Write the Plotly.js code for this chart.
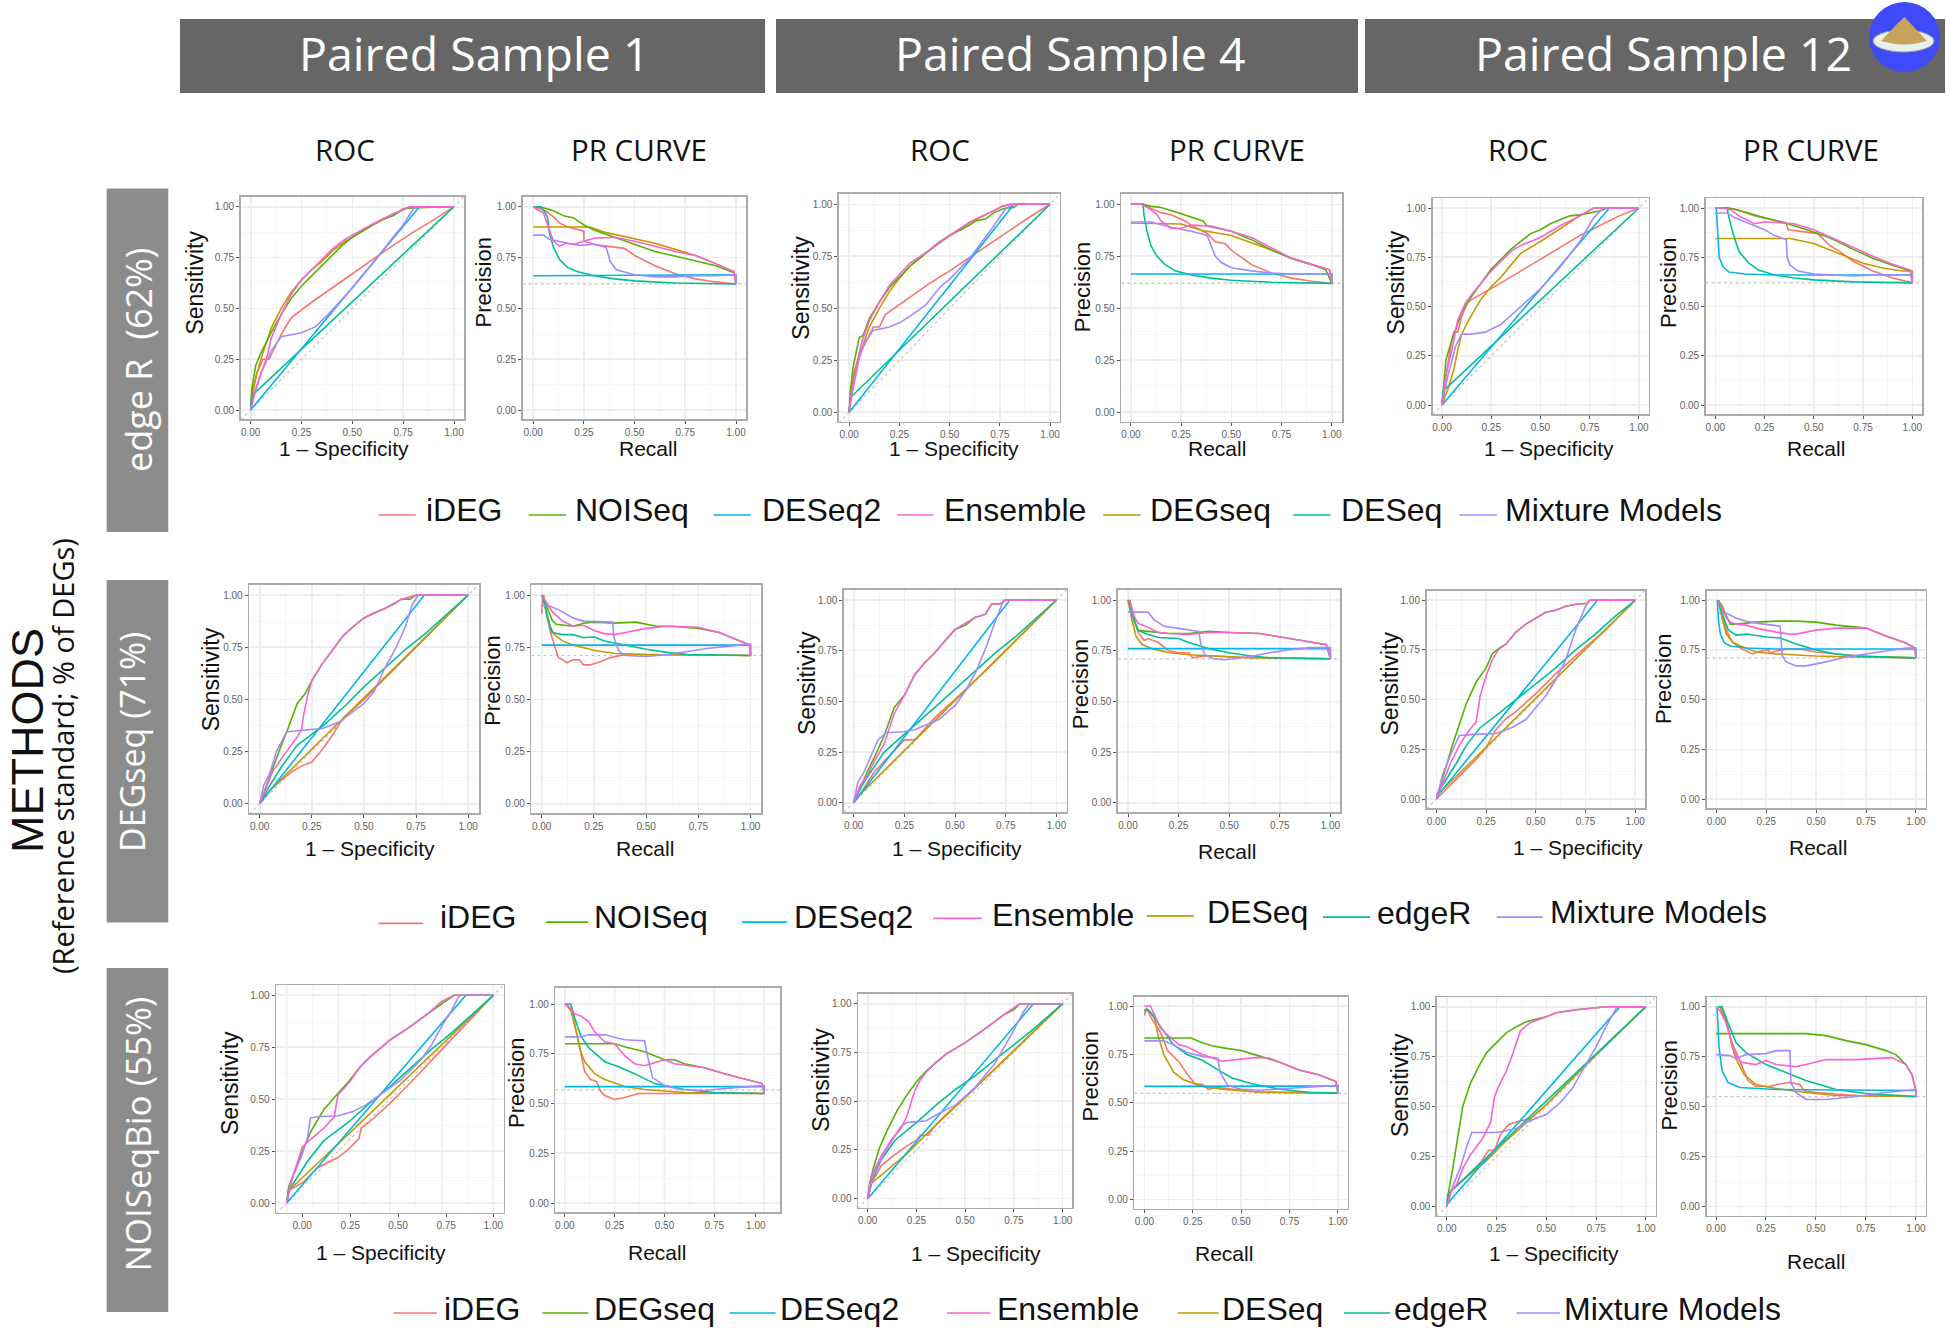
<!DOCTYPE html>
<html><head><meta charset="utf-8">
<script src="https://cdn.plot.ly/plotly-3.0.1.min.js"></script>
<style>html,body{margin:0;padding:0;background:#fff}#c{width:1946px;height:1329px}</style>
</head><body><div id="c"></div>
<script>
// ---- DATA: [x,y] pairs, one small table per panel ----
const rocS1E={red:[[0,0],[.01,.1],[.03,.18],[.06,.25],[.09,.25],[.12,.31],[.16,.39],[.2,.455],[.3,.53],[.4,.6],[.5,.67],[.6,.74],[.7,.81],[.8,.875],[.9,.935],[1,1]],
gold:[[0,0],[.01,.08],[.03,.18],[.06,.28],[.1,.4],[.15,.5],[.2,.58],[.25,.64],[.3,.69],[.35,.73],[.4,.78],[.45,.82],[.5,.85],[.6,.91],[.7,.96],[.77,.995],[1,1]],
green:[[0,0],[.005,.1],[.025,.22],[.05,.28],[.1,.38],[.15,.47],[.2,.55],[.25,.61],[.3,.66],[.35,.71],[.4,.76],[.45,.81],[.5,.85],[.55,.88],[.6,.91],[.65,.94],[.7,.955],[.75,.99],[.8,.995],[1,1]],
teal:[[0,0],[.005,.07],[1,1]],blue:[[0,0],[.83,1],[1,1]],
purple:[[0,0],[.02,.08],[.05,.18],[.1,.29],[.15,.36],[.2,.37],[.25,.38],[.32,.41],[.4,.49],[.5,.6],[.6,.72],[.7,.85],[.75,.91],[.8,.99],[.82,1],[1,1]],
pink:[[0,0],[.02,.09],[.05,.18],[.08,.26],[.1,.35],[.15,.47],[.2,.57],[.25,.64],[.3,.69],[.35,.74],[.4,.79],[.45,.83],[.5,.86],[.6,.915],[.7,.965],[.78,1],[1,1]]};
const prS1E={red:[[0,1],[.06,.98],[.1,.95],[.13,.92],[.17,.9],[.25,.88],[.25,.83],[.3,.815],[.37,.805],[.45,.795],[.5,.76],[.6,.71],[.7,.67],[.8,.645],[.9,.63],[1,.62]],
gold:[[0,.9],[.28,.9],[.35,.875],[.5,.84],[.6,.82],[.7,.79],[.8,.76],[.9,.72],[.99,.68],[1,.62]],
green:[[0,1],[.05,.995],[.1,.98],[.15,.955],[.2,.945],[.25,.91],[.3,.885],[.4,.85],[.5,.815],[.6,.78],[.75,.745],[.9,.71],[.99,.675],[1,.62]],
teal:[[.01,1],[.04,1],[.07,.95],[.08,.87],[.1,.8],[.13,.74],[.17,.7],[.22,.68],[.3,.66],[.4,.645],[.5,.635],[.7,.625],[1,.62]],
blue:[[0,.66],[1,.665],[1,.62]],
purple:[[0,.86],[.05,.86],[.08,.84],[.12,.83],[.17,.82],[.23,.81],[.3,.815],[.36,.8],[.38,.73],[.41,.69],[.5,.665],[.6,.655],[.7,.655],[.8,.66],[.9,.66],[1,.665],[1,.62]],
pink:[[0,1],[.02,.985],[.05,.97],[.08,.88],[.1,.83],[.13,.805],[.16,.82],[.2,.815],[.25,.83],[.3,.845],[.4,.85],[.5,.83],[.6,.805],[.7,.78],[.8,.76],[.9,.72],[.99,.68],[1,.62]]};
const rocS4E={red:[[0,0],[.02,.18],[.05,.28],[.08,.33],[.12,.41],[.15,.41],[.18,.47],[.3,.55],[.4,.62],[.5,.68],[.6,.745],[.7,.81],[.8,.875],[.9,.94],[1,1]],
gold:[[0,0],[.01,.1],[.03,.2],[.06,.3],[.1,.41],[.15,.5],[.2,.58],[.25,.645],[.3,.7],[.4,.78],[.5,.85],[.6,.91],[.7,.96],[.76,.99],[.8,1],[1,1]],
green:[[0,0],[.005,.1],[.02,.22],[.05,.36],[.07,.37],[.1,.45],[.15,.53],[.2,.6],[.25,.65],[.3,.7],[.35,.74],[.4,.78],[.45,.82],[.5,.85],[.55,.875],[.6,.9],[.63,.92],[.68,.93],[.72,.96],[.77,.98],[.82,.985],[.84,1],[1,1]],
teal:[[0,0],[.005,.07],[1,1]],blue:[[0,0],[.82,1],[1,1]],
purple:[[0,0],[.02,.12],[.05,.26],[.08,.34],[.12,.395],[.2,.41],[.25,.43],[.3,.46],[.38,.515],[.45,.6],[.5,.64],[.6,.74],[.7,.87],[.78,.98],[.82,1],[1,1]],
pink:[[0,0],[.01,.09],[.03,.18],[.06,.33],[.1,.44],[.15,.53],[.2,.61],[.25,.665],[.3,.715],[.4,.78],[.5,.85],[.6,.915],[.7,.96],[.76,.99],[.8,1],[1,1]]};
const prS4E={red:[[0,1],[.06,1],[.1,.98],[.15,.96],[.2,.95],[.27,.92],[.3,.9],[.38,.86],[.4,.84],[.42,.82],[.47,.81],[.5,.78],[.6,.71],[.7,.67],[.8,.645],[.9,.63],[1,.62]],
gold:[[0,.91],[.25,.905],[.35,.875],[.5,.85],[.6,.815],[.7,.78],[.8,.74],[.9,.71],[.99,.685],[1,.62]],
green:[[0,1],[.06,1],[.1,.99],[.15,.985],[.2,.97],[.3,.94],[.36,.92],[.38,.895],[.5,.87],[.6,.83],[.7,.78],[.8,.74],[.9,.71],[.97,.685],[1,.62]],
teal:[[0,1],[.06,1],[.065,.95],[.08,.87],[.1,.8],[.13,.75],[.17,.71],[.22,.68],[.3,.66],[.4,.645],[.5,.635],[.7,.625],[1,.62]],
blue:[[0,.665],[1,.665],[1,.62]],
purple:[[0,.915],[.1,.915],[.2,.89],[.3,.87],[.38,.85],[.4,.8],[.42,.75],[.45,.72],[.5,.695],[.6,.68],[.7,.67],[.8,.665],[1,.665],[1,.62]],
pink:[[0,1],[.05,1],[.09,.98],[.13,.95],[.15,.92],[.2,.885],[.25,.885],[.3,.9],[.4,.895],[.5,.87],[.6,.84],[.7,.79],[.8,.74],[.9,.71],[.99,.685],[1,.62]]};
const rocS12E={red:[[0,0],[.02,.15],[.05,.33],[.06,.37],[.08,.37],[.1,.45],[.13,.52],[.15,.535],[.3,.62],[.4,.68],[.5,.74],[.6,.8],[.7,.86],[.8,.91],[.9,.96],[1,1]],
gold:[[0,0],[.03,.08],[.06,.18],[.08,.28],[.1,.36],[.13,.42],[.17,.49],[.2,.54],[.25,.6],[.3,.65],[.35,.71],[.4,.77],[.5,.83],[.6,.895],[.7,.96],[.77,1],[1,1]],
green:[[0,0],[.01,.13],[.02,.23],[.05,.33],[.1,.47],[.15,.55],[.2,.62],[.25,.69],[.3,.74],[.35,.79],[.4,.83],[.45,.87],[.5,.89],[.55,.92],[.6,.94],[.65,.96],[.7,.965],[.75,.975],[.8,.985],[.84,1],[1,1]],
teal:[[0,0],[.005,.07],[1,1]],blue:[[0,0],[.85,1],[1,1]],
purple:[[0,0],[.03,.15],[.07,.3],[.1,.36],[.15,.36],[.22,.37],[.3,.41],[.4,.5],[.5,.59],[.6,.7],[.7,.83],[.77,.95],[.82,1],[1,1]],
pink:[[0,0],[.02,.15],[.05,.28],[.08,.43],[.12,.52],[.15,.56],[.2,.62],[.25,.68],[.3,.73],[.35,.78],[.4,.81],[.5,.85],[.6,.91],[.7,.96],[.77,1],[1,1]]};
const prS12E={red:[[0,1],[.1,.995],[.2,.96],[.3,.94],[.36,.925],[.37,.89],[.45,.88],[.52,.87],[.58,.81],[.63,.78],[.7,.73],[.8,.68],[.9,.645],[1,.62]],
gold:[[0,.845],[.38,.845],[.5,.82],[.55,.8],[.6,.78],[.65,.76],[.75,.72],[.85,.695],[.95,.68],[1,.68],[1,.62]],
green:[[0,1],[.07,1],[.15,.98],[.25,.95],[.35,.925],[.45,.895],[.55,.86],[.6,.84],[.7,.79],[.8,.745],[.9,.71],[.99,.68],[1,.62]],
teal:[[0,1],[.06,1],[.07,.95],[.09,.87],[.12,.78],[.17,.72],[.22,.685],[.3,.66],[.4,.645],[.5,.635],[.7,.625],[1,.62]],
blue:[[.005,1],[.012,.85],[.02,.75],[.04,.7],[.07,.675],[.15,.665],[.3,.66],[1,.66],[1,.62]],
purple:[[0,.975],[.06,.975],[.1,.95],[.15,.93],[.2,.91],[.25,.89],[.3,.86],[.36,.84],[.365,.75],[.38,.71],[.42,.68],[.5,.665],[.6,.66],[.7,.655],[.8,.66],[.9,.66],[1,.66],[1,.62]],
pink:[[0,1],[.04,1],[.08,.99],[.12,.96],[.2,.92],[.25,.93],[.4,.92],[.5,.89],[.6,.845],[.7,.8],[.8,.755],[.9,.715],[.99,.685],[1,.62]]};
const rocS1D={red:[[0,0],[.02,.03],[.05,.065],[.1,.11],[.15,.15],[.2,.18],[.25,.2],[.3,.26],[.35,.33],[.4,.41],[.5,.5],[.6,.6],[.8,.8],[1,1]],
gold:[[0,0],[.01,.025],[1,1]],
green:[[0,0],[.03,.08],[.06,.17],[.1,.27],[.13,.345],[.15,.4],[.18,.48],[.22,.53],[.25,.59],[.3,.67],[.35,.74],[.4,.805],[.45,.85],[.5,.89],[.55,.915],[.6,.935],[.65,.96],[.68,.98],[.72,.98],[.75,1],[1,1]],
teal:[[0,.01],[.03,.06],[.1,.17],[.15,.24],[.18,.28],[.3,.37],[.4,.46],[.5,.56],[.6,.65],[.7,.74],[.8,.82],[.9,.91],[1,1]],
blue:[[0,0],[.79,1],[1,1]],
purple:[[0,0],[.02,.09],[.05,.15],[.08,.25],[.13,.345],[.2,.35],[.3,.36],[.38,.39],[.45,.44],[.5,.48],[.55,.54],[.6,.65],[.65,.74],[.7,.85],[.73,.95],[.76,1],[1,1]],
pink:[[0,0],[.03,.08],[.06,.15],[.1,.21],[.15,.28],[.18,.32],[.2,.355],[.21,.42],[.23,.52],[.25,.59],[.3,.67],[.35,.74],[.4,.805],[.45,.85],[.5,.89],[.6,.935],[.68,.98],[.75,1],[1,1]]};
const prS1D={red:[[0,.91],[.005,1],[.02,.93],[.04,.83],[.06,.76],[.08,.7],[.1,.69],[.12,.675],[.15,.69],[.18,.69],[.2,.665],[.23,.665],[.28,.68],[.33,.7],[.4,.715],[.5,.715],[1,.71]],
gold:[[.01,1],[.02,.93],[.04,.85],[.06,.81],[.1,.78],[.15,.76],[.25,.735],[.35,.72],[.5,.715],[1,.71]],
green:[[0,1],[.01,.98],[.03,.93],[.05,.88],[.07,.86],[.1,.855],[.15,.85],[.2,.865],[.25,.87],[.35,.865],[.45,.87],[.55,.85],[.63,.85],[.75,.84],[.85,.82],[.95,.78],[.995,.76],[1,.71]],
teal:[[0,1],[.01,.97],[.03,.88],[.05,.82],[.1,.81],[.15,.81],[.2,.795],[.25,.8],[.3,.78],[.4,.76],[.5,.74],[.6,.725],[.7,.715],[1,.71]],
blue:[[0,.76],[1,.76],[1,.71]],
purple:[[0,.95],[.03,.95],[.08,.93],[.15,.89],[.2,.875],[.3,.87],[.34,.87],[.345,.8],[.37,.73],[.4,.71],[.5,.705],[.6,.715],[.7,.73],[.8,.745],[.9,.755],[1,.765],[1,.71]],
pink:[[0,1],[.02,.97],[.05,.92],[.1,.875],[.15,.85],[.2,.855],[.25,.83],[.3,.815],[.35,.81],[.4,.82],[.5,.84],[.6,.85],[.75,.845],[.85,.82],[.95,.78],[.995,.76],[1,.71]]};
const rocS4D={red:[[0,0],[.05,.07],[.1,.15],[.2,.26],[.25,.31],[.3,.31],[.32,.33],[.4,.42],[.5,.51],[.7,.7],[1,1]],
gold:[[0,0],[.01,.02],[1,1]],
green:[[0,0],[.03,.07],[.07,.16],[.1,.22],[.15,.33],[.2,.47],[.25,.53],[.3,.63],[.35,.69],[.4,.74],[.45,.8],[.5,.855],[.55,.875],[.6,.915],[.62,.92],[.65,.93],[.68,.98],[.72,.98],[.75,1],[1,1]],
teal:[[0,.01],[.05,.1],[.15,.25],[.3,.38],[.4,.47],[.5,.56],[.6,.65],[.7,.74],[.8,.82],[.9,.91],[1,1]],
blue:[[0,0],[.77,1],[1,1]],
purple:[[0,0],[.02,.1],[.05,.15],[.08,.22],[.12,.31],[.16,.345],[.25,.35],[.3,.36],[.35,.38],[.42,.41],[.5,.48],[.55,.55],[.6,.64],[.65,.76],[.7,.9],[.74,1],[1,1]],
pink:[[0,0],[.03,.08],[.07,.14],[.1,.2],[.15,.29],[.2,.44],[.25,.53],[.3,.63],[.35,.69],[.4,.74],[.45,.8],[.5,.855],[.6,.915],[.65,.93],[.68,.98],[.72,.98],[.75,1],[1,1]]};
const prS4D={red:[[.01,1],[.03,.9],[.05,.84],[.08,.8],[.1,.81],[.15,.79],[.2,.75],[.25,.74],[.3,.74],[.32,.715],[.35,.72],[.4,.725],[.5,.72],[.6,.715],[1,.71]],
gold:[[0,1],[.02,.9],[.04,.82],[.07,.78],[.12,.76],[.2,.74],[.3,.73],[.4,.725],[.6,.715],[1,.71]],
green:[[0,1],[.01,.98],[.03,.9],[.05,.85],[.1,.845],[.15,.84],[.2,.835],[.3,.835],[.4,.845],[.5,.84],[.65,.835],[.8,.81],[.9,.795],[.98,.78],[1,.71]],
teal:[[.005,1],[.02,.93],[.05,.85],[.1,.83],[.15,.815],[.25,.81],[.3,.79],[.4,.76],[.5,.74],[.6,.725],[.7,.715],[1,.71]],
blue:[[0,.76],[1,.76],[1,.71]],
purple:[[0,.94],[.1,.94],[.13,.9],[.18,.87],[.25,.86],[.35,.845],[.36,.78],[.38,.73],[.42,.71],[.48,.705],[.6,.72],[.7,.74],[.8,.755],[.9,.765],[1,.765],[1,.71]],
pink:[[0,1],[.01,.99],[.03,.92],[.05,.885],[.1,.865],[.15,.84],[.2,.835],[.3,.83],[.4,.84],[.5,.84],[.65,.835],[.8,.81],[.9,.795],[.98,.78],[1,.71]]};
const rocS12D={red:[[0,0],[.1,.1],[.2,.2],[.25,.26],[.3,.35],[.35,.405],[.4,.44],[.5,.53],[.6,.63],[.7,.72],[.85,.85],[1,1]],
gold:[[0,.01],[.01,.025],[1,1]],
green:[[0,0],[.03,.1],[.05,.17],[.08,.27],[.12,.39],[.15,.48],[.2,.59],[.25,.66],[.28,.73],[.31,.755],[.35,.78],[.4,.84],[.45,.88],[.5,.91],[.55,.94],[.6,.95],[.65,.97],[.7,.98],[.76,.985],[.77,1],[1,1]],
teal:[[0,.02],[.1,.18],[.15,.27],[.22,.36],[.3,.42],[.4,.5],[.5,.58],[.6,.66],[.7,.75],[.8,.83],[.9,.92],[1,1]],
blue:[[0,.01],[.81,1],[1,1]],
purple:[[0,0],[.03,.12],[.07,.22],[.115,.32],[.2,.325],[.3,.33],[.38,.36],[.45,.4],[.5,.46],[.55,.52],[.6,.6],[.65,.7],[.7,.85],[.75,.97],[.77,1],[1,1]],
pink:[[0,0],[.03,.08],[.07,.18],[.12,.28],[.16,.34],[.2,.39],[.21,.45],[.22,.52],[.25,.62],[.28,.7],[.31,.75],[.35,.78],[.4,.84],[.45,.88],[.5,.91],[.55,.94],[.6,.95],[.65,.97],[.7,.98],[.76,.985],[.77,1],[1,1]]};
const prS12D={red:[[.01,1],[.03,.92],[.05,.85],[.08,.79],[.12,.76],[.18,.73],[.22,.745],[.26,.75],[.27,.735],[.3,.745],[.35,.755],[.42,.755],[.5,.74],[.6,.73],[.8,.715],[1,.71]],
gold:[[.01,1],[.03,.9],[.05,.83],[.08,.79],[.12,.77],[.2,.74],[.3,.73],[.5,.72],[.7,.715],[1,.71]],
green:[[.01,1],[.03,.97],[.05,.92],[.07,.88],[.1,.88],[.15,.885],[.2,.89],[.3,.895],[.4,.895],[.5,.89],[.6,.875],[.75,.86],[.85,.82],[.95,.785],[.995,.76],[1,.71]],
teal:[[.01,1],[.03,.93],[.06,.85],[.1,.825],[.15,.83],[.25,.815],[.32,.81],[.4,.78],[.5,.75],[.6,.73],[.7,.72],[1,.71]],
blue:[[.005,1],[.01,.9],[.02,.83],[.04,.785],[.07,.77],[.15,.76],[.3,.755],[1,.755],[1,.71]],
purple:[[.005,.935],[.05,.935],[.1,.91],[.15,.895],[.2,.885],[.3,.875],[.32,.87],[.33,.72],[.35,.69],[.4,.67],[.45,.67],[.55,.69],[.65,.715],[.75,.73],[.85,.745],[.95,.76],[1,.76],[1,.71]],
pink:[[.01,1],[.03,.95],[.05,.91],[.07,.89],[.1,.88],[.15,.875],[.2,.86],[.3,.84],[.37,.83],[.4,.83],[.5,.85],[.6,.86],[.75,.86],[.85,.82],[.95,.785],[.995,.76],[1,.71]]};
const rocS1N={red:[[0,0],[.01,.06],[.08,.1],[.15,.17],[.18,.185],[.25,.22],[.3,.26],[.35,.31],[.36,.36],[.4,.39],[.5,.48],[.6,.58],[.8,.79],[1,1]],
gold:[[0,0],[.01,.06],[.35,.38],[1,1]],
green:[[0,0],[.01,.08],[.05,.18],[.08,.26],[.12,.35],[.18,.45],[.25,.53],[.3,.585],[.357,.657],[.4,.7],[.5,.785],[.6,.85],[.685,.913],[.75,.96],[.81,1],[1,1]],
teal:[[0,0],[.01,.06],[.1,.2],[.18,.3],[.3,.39],[.4,.48],[.5,.56],[.6,.65],[.7,.74],[.8,.82],[.9,.91],[1,1]],
blue:[[0,0],[.867,1],[1,1]],
purple:[[0,0],[.03,.13],[.07,.22],[.1,.31],[.115,.41],[.15,.415],[.25,.42],[.32,.44],[.38,.47],[.45,.52],[.55,.59],[.65,.69],[.7,.76],[.75,.85],[.8,.93],[.83,.99],[.84,1],[1,1]],
pink:[[0,0],[.02,.1],[.05,.19],[.075,.27],[.12,.31],[.18,.36],[.23,.415],[.248,.52],[.3,.576],[.357,.657],[.4,.7],[.5,.785],[.6,.85],[.685,.913],[.75,.97],[.81,1],[1,1]]};
const prS1N={red:[[0,1],[.03,.97],[.06,.85],[.08,.75],[.1,.66],[.13,.62],[.16,.61],[.18,.56],[.2,.54],[.25,.52],[.3,.53],[.37,.55],[.5,.55],[1,.55]],
gold:[[.01,1],[.04,.95],[.06,.85],[.08,.76],[.1,.71],[.15,.65],[.2,.62],[.3,.585],[.4,.57],[.6,.555],[1,.55]],
green:[[0,.8],[.25,.8],[.3,.785],[.4,.76],[.5,.72],[.55,.72],[.6,.7],[.7,.68],[.8,.65],[.9,.625],[.99,.6],[1,.55]],
teal:[[0,1],[.03,1],[.05,.93],[.08,.84],[.12,.78],[.2,.71],[.27,.685],[.35,.65],[.45,.6],[.6,.57],[.75,.555],[1,.55]],
blue:[[0,.585],[1,.585],[1,.55]],
purple:[[0,.835],[.08,.835],[.12,.845],[.2,.845],[.3,.82],[.4,.815],[.41,.76],[.44,.63],[.5,.59],[.58,.57],[.7,.565],[.85,.58],[1,.59],[1,.55]],
pink:[[0,1],[.03,.98],[.05,.95],[.08,.94],[.12,.91],[.15,.86],[.2,.81],[.25,.8],[.3,.74],[.35,.7],[.4,.69],[.45,.705],[.5,.72],[.55,.7],[.7,.68],[.8,.65],[.9,.625],[.99,.6],[1,.55]]};
const rocS4N={red:[[0,0],[.02,.08],[.07,.17],[.13,.22],[.2,.27],[.25,.3],[.27,.325],[.31,.325],[.35,.38],[.4,.43],[.5,.52],[1,1]],
gold:[[0,0],[.02,.08],[.2,.23],[.3,.33],[.5,.52],[1,1]],
green:[[0,0],[.01,.08],[.03,.16],[.06,.26],[.1,.35],[.15,.45],[.2,.53],[.25,.6],[.3,.655],[.35,.7],[.4,.74],[.5,.8],[.6,.87],[.7,.945],[.75,.97],[.78,1],[1,1]],
teal:[[0,0],[.02,.09],[.07,.2],[.14,.3],[.25,.39],[.35,.48],[.45,.56],[.55,.63],[.7,.75],[.85,.87],[1,1]],
blue:[[0,0],[.85,1],[1,1]],
purple:[[0,0],[.03,.13],[.1,.26],[.17,.37],[.2,.39],[.3,.4],[.37,.44],[.45,.48],[.55,.57],[.65,.69],[.73,.83],[.8,.96],[.83,1],[1,1]],
pink:[[0,0],[.01,.07],[.03,.14],[.07,.22],[.12,.3],[.17,.36],[.2,.42],[.24,.55],[.27,.61],[.3,.65],[.35,.7],[.4,.74],[.5,.8],[.6,.87],[.7,.945],[.78,1],[1,1]]};
const prS4N={red:[[0,.95],[.01,.99],[.04,.93],[.08,.87],[.12,.77],[.18,.71],[.22,.65],[.26,.6],[.3,.595],[.33,.57],[.37,.58],[.45,.57],[.6,.555],[1,.55]],
gold:[[0,.97],[.02,.98],[.05,.95],[.07,.85],[.1,.75],[.15,.66],[.2,.62],[.3,.585],[.4,.57],[.6,.555],[1,.55]],
green:[[0,.835],[.24,.835],[.3,.81],[.35,.795],[.4,.785],[.5,.77],[.6,.74],[.7,.71],[.8,.67],[.9,.645],[.99,.61],[1,.55]],
teal:[[0,.98],[.02,.98],[.05,.94],[.1,.87],[.15,.8],[.22,.75],[.3,.72],[.38,.67],[.45,.63],[.55,.6],[.7,.57],[.85,.555],[1,.55]],
blue:[[0,.585],[1,.587],[1,.55]],
purple:[[0,.82],[.1,.82],[.15,.8],[.22,.76],[.3,.74],[.38,.73],[.39,.66],[.43,.59],[.5,.57],[.6,.565],[.75,.575],[.9,.585],[1,.59],[1,.55]],
pink:[[0,1],[.03,1],[.05,.96],[.08,.89],[.12,.85],[.18,.8],[.22,.79],[.3,.75],[.4,.715],[.5,.725],[.58,.735],[.65,.73],[.72,.7],[.8,.67],[.9,.645],[.99,.61],[1,.55]]};
const rocS12N={red:[[0,0],[.02,.08],[.1,.15],[.17,.22],[.21,.28],[.24,.28],[.27,.36],[.31,.41],[.36,.425],[.42,.44],[.5,.51],[.75,.76],[1,1]],
gold:[[0,0],[.02,.08],[.2,.23],[.3,.33],[.5,.51],[.75,.76],[1,1]],
green:[[0,0],[.01,.08],[.03,.19],[.05,.31],[.08,.5],[.12,.62],[.16,.7],[.2,.77],[.25,.82],[.3,.87],[.35,.9],[.4,.925],[.5,.95],[.55,.97],[.65,.985],[.75,.995],[.8,1],[1,1]],
teal:[[0,0],[.005,.06],[1,1]],blue:[[0,.01],[.87,1],[1,1]],
purple:[[0,0],[.03,.1],[.07,.2],[.1,.3],[.125,.37],[.25,.37],[.35,.39],[.42,.43],[.5,.46],[.57,.52],[.63,.59],[.7,.71],[.75,.8],[.8,.9],[.85,.99],[.86,1],[1,1]],
pink:[[0,0],[.02,.07],[.05,.11],[.08,.19],[.12,.26],[.18,.34],[.22,.42],[.24,.55],[.26,.6],[.3,.68],[.33,.76],[.37,.88],[.42,.92],[.5,.95],[.55,.97],[.65,.985],[.8,1],[1,1]]};
const prS12N={red:[[.02,1],[.05,.93],[.08,.82],[.12,.72],[.16,.63],[.2,.6],[.27,.6],[.3,.61],[.37,.62],[.42,.61],[.44,.58],[.5,.57],[.7,.555],[1,.55]],
gold:[[.02,1],[.05,.94],[.08,.8],[.1,.74],[.14,.66],[.2,.61],[.3,.59],[.45,.57],[.6,.555],[1,.55]],
green:[[0,.865],[.45,.865],[.55,.855],[.65,.83],[.75,.81],[.85,.78],[.9,.76],[.95,.71],[.98,.66],[1,.58],[1,.55]],
teal:[[.01,1],[.03,1],[.06,.92],[.1,.82],[.15,.77],[.25,.71],[.35,.67],[.45,.63],[.6,.585],[.75,.565],[1,.55]],
blue:[[.005,1],[.015,.8],[.03,.68],[.06,.62],[.12,.595],[.3,.585],[1,.58],[1,.55]],
purple:[[0,.76],[.07,.755],[.1,.74],[.15,.76],[.25,.765],[.3,.78],[.37,.78],[.375,.62],[.4,.57],[.45,.535],[.55,.535],[.7,.55],[.85,.57],[1,.585],[1,.55]],
pink:[[0,1],[.02,.98],[.05,.92],[.08,.82],[.1,.75],[.13,.72],[.2,.71],[.25,.73],[.3,.71],[.4,.7],[.45,.71],[.55,.735],[.7,.735],[.88,.745],[.95,.71],[.98,.66],[1,.58],[1,.55]]};

// method names in each row's legend, keyed by line colour name
const legendOrder=['red','green','blue','pink','gold','teal','purple'];
const namesEdgeR=['iDEG','NOISeq','DESeq2','Ensemble','DEGseq','DESeq','Mixture Models'];
const namesDEGseq=['iDEG','NOISeq','DESeq2','Ensemble','DESeq','edgeR','Mixture Models'];
const namesNOISeqBio=['iDEG','DEGseq','DESeq2','Ensemble','DESeq','edgeR','Mixture Models'];
const tickLabels=['0.00','0.25','0.50','0.75','1.00'];
const tickValues=[0,.25,.5,.75,1];
const minorValues=[.125,.375,.625,.875];
const colors={red:'#F8766D',gold:'#C49A00',green:'#53B400',teal:'#00C094',blue:'#00B6EB',purple:'#A58AFF',pink:'#FB61D7'};
const drawOrder=['red','gold','green','teal','blue','purple','pink'];

// ---- LAYOUT TABLES (pixels in the 1946x1329 page) ----
const W=1946,H=1329;
// f: frame L,R,T,B  s: pixel of data x0,x1,y1,y0  xt,yt: axis title centres
const panels=[
 {d:rocS1E,k:'roc',n:namesEdgeR,b:.62,f:[240.8,463.9,196.7,419.3],s:[250.7,454,206.7,410],xt:[344.1,448.3],yt:[194.9,282.7]},
 {d:prS1E,k:'pr',n:namesEdgeR,b:.62,f:[522.8,746,196.7,419.3],s:[533.2,736,206.7,410],xt:[647.6,448.3],yt:[483.8,282.7]},
 {d:rocS4E,k:'roc',n:namesEdgeR,b:.62,f:[838.9,1059.7,194,421.7],s:[849.2,1050.1,204.3,412.3],xt:[953.7,448.3],yt:[801.4,287.3]},
 {d:prS4E,k:'pr',n:namesEdgeR,b:.62,f:[1121.3,1342.1,194,421.7],s:[1130.9,1331.8,204.3,412.3],xt:[1216.6,448.3],yt:[1081.9,287.3]},
 {d:rocS12E,k:'roc',n:namesEdgeR,b:.62,f:[1432.5,1648.5,198.3,414.3],s:[1442,1638.9,208,405],xt:[1549.3,448.3],yt:[1395.7,282.7]},
 {d:prS12E,k:'pr',n:namesEdgeR,b:.62,f:[1705.8,1922.2,198.3,414.3],s:[1715.3,1912.3,208,405],xt:[1816.4,448.3],yt:[1668.3,282.7]},
 {d:rocS1D,k:'roc',n:namesDEGseq,b:.71,f:[249.3,478.9,584.7,813.3],s:[259.7,468.2,595,803.7],xt:[370,848.3],yt:[211,679.3]},
 {d:prS1D,k:'pr',n:namesDEGseq,b:.71,f:[531.4,761,584.7,813.3],s:[541.7,750.6,595,803.7],xt:[645.4,848.3],yt:[493.1,680.7]},
 {d:rocS4D,k:'roc',n:namesDEGseq,b:.71,f:[844,1066.7,590,812],s:[853.7,1056.5,600,802.7],xt:[956.8,848.3],yt:[806.3,682.7]},
 {d:prS4D,k:'pr',n:namesDEGseq,b:.71,f:[1117.9,1340.2,590,812],s:[1128,1330.4,600,802.7],xt:[1227,851],yt:[1080.2,684]},
 {d:rocS12D,k:'roc',n:namesDEGseq,b:.71,f:[1426.6,1645.2,590.7,808],s:[1436.5,1635.2,600.3,799],xt:[1577.6,847.3],yt:[1390.2,683.3]},
 {d:prS12D,k:'pr',n:namesDEGseq,b:.71,f:[1706.5,1925.5,590.7,808],s:[1716.4,1915.9,600.3,799],xt:[1817.5,847.3],yt:[1662.8,679.3]},
 {d:rocS1N,k:'roc',n:namesNOISeqBio,b:0,f:[276.2,503.8,985.3,1212.7],s:[286.7,493.3,995.3,1203],xt:[381.2,1252.7],yt:[230.7,1083.3],tv:[.0747,.308,.539,.772,1]},
 {d:prS1N,k:'pr',n:namesNOISeqBio,b:.568,f:[555.4,780.4,988,1212.3],s:[564.8,764.2,1004,1203],xt:[657,1252.7],yt:[516.6,1083.3],tv:[0,.25,.5,.75,.958]},
 {d:rocS4N,k:'roc',n:namesNOISeqBio,b:0,f:[858.1,1072.3,994,1207.7],s:[867.7,1062.7,1003.7,1198.7],xt:[976.1,1253.3],yt:[820.7,1080]},
 {d:prS4N,k:'pr',n:namesNOISeqBio,b:.549,f:[1134.4,1347.5,996.7,1208.7],s:[1144.4,1337.9,1006,1199.7],xt:[1223.6,1253.3],yt:[1090.4,1076]},
 {d:rocS12N,k:'roc',n:namesNOISeqBio,b:0,f:[1436.9,1655.8,997.3,1215.7],s:[1446.8,1645.9,1006.7,1206.3],xt:[1553.7,1253.3],yt:[1400.1,1085]},
 {d:prS12N,k:'pr',n:namesNOISeqBio,b:.549,f:[1706.5,1925.5,997.3,1215.7],s:[1716,1915.9,1006.7,1206.3],xt:[1816.4,1261.7],yt:[1669.4,1085]}
];
// legend rows at shrunk scale (multiplied by K): [lineStart,lineEnd,textStart,lineY,textY]
const K=1946/1568;
const legendRows=[
 {n:namesEdgeR,p:[[305,335,344,415,411],[426,456,464,415,411],[575,605,614,415,411],[723,752,761,415,411],[889,919,927,415,411],[1042,1072,1081,415,411],[1176,1206,1213,415,411]]},
 {n:namesDEGseq,p:[[305,341,355,744,739],[440,474,479,743,739],[598,634,640,743,739],[752,791,800,740,737],[924,962,973,738,735],[1066,1104,1110,739,736],[1206,1243,1249,739,735]]},
 {n:namesNOISeqBio,p:[[317,352,358,1058,1055],[437,474,479,1058,1055],[588,625,629,1058,1055],[763,798,804,1058,1055],[949,982,985,1058,1055],[1083,1120,1124,1058,1055],[1222,1257,1261,1058,1055]]}
];
const banners=[{t:'Paired Sample 1',a:180,b:765,c:474},{t:'Paired Sample 4',a:776,b:1358,c:1070},{t:'Paired Sample 12',a:1365,b:1945,c:1663}];
const heads=[['ROC',345],['PR CURVE',639],['ROC',939.5],['PR CURVE',1237],['ROC',1518],['PR CURVE',1811]];
const rowBoxes=[{t:'edge R  (62%)',a:188.5,b:532,c:360,x:139,s:36},{t:'DEGseq (71%)',a:580,b:922.4,c:742,x:132,s:34},{t:'NOISeqBio (55%)',a:968,b:1312,c:1134,x:136.5,s:35}];

// ---- BUILD ----
const px=x=>x/W, py=y=>1-y/H;
const traces=[], shapes=[], annotations=[], layout={};
const sansR='"Liberation Sans",Arial,sans-serif', sansO='"Open Sans",sans-serif';
function text(t,x,y,size,color,fam,angle,anchor){annotations.push({text:t,x:px(x),y:py(y),xref:'paper',yref:'paper',showarrow:false,xanchor:anchor||'center',yanchor:'middle',textangle:angle||0,font:{family:fam,size:size,color:color}});}
function rect(a,b,c,d,fill){shapes.push({type:'rect',xref:'paper',yref:'paper',x0:px(a),x1:px(b),y0:py(d),y1:py(c),fillcolor:fill,line:{width:0},layer:'below'});}

panels.forEach((p,i)=>{
 const id=i?String(i+1):'', xa='x'+id, ya='y'+id;
 const [L,R,T,B]=p.f,[x0,x1,y1,y0]=p.s;
 const rx=[(L-x0)/(x1-x0),(R-x0)/(x1-x0)], ry=[(y0-B)/(y0-y1),(y0-T)/(y0-y1)];
 const common={showline:true,mirror:true,linecolor:'#ABABAB',linewidth:1.6,zeroline:false,ticks:'outside',ticklen:3,tickwidth:1,tickcolor:'#555',
  tickfont:{family:sansR,size:10,color:'#5F5F5F'},tickmode:'array',ticktext:tickLabels,gridcolor:'#EEEEEE',gridwidth:1.6,
  minor:{tickmode:'array',tickvals:minorValues,showgrid:true,gridcolor:'#F4F4F4',gridwidth:.8,ticks:''},layer:'above traces'};
 layout['xaxis'+id]=Object.assign({},common,{domain:[L/W,R/W],range:rx,anchor:ya,tickvals:p.tv||tickValues,showgrid:!p.tv});
 layout['yaxis'+id]=Object.assign({},common,{domain:[1-B/H,1-T/H],range:ry,anchor:xa,tickvals:tickValues});
 if(p.tv){
  tickValues.forEach(v=>shapes.push({type:'line',xref:xa,yref:ya+' domain',x0:v,x1:v,y0:0,y1:1,line:{color:'#EEEEEE',width:1.6},layer:'below'}));
 }
 // reference line
 const refY=p.k==='roc'?rx:[p.b,p.b];
 traces.push({type:'scatter',mode:'lines',x:rx,y:refY,xaxis:xa,yaxis:ya,showlegend:false,hoverinfo:'skip',line:{color:'#C4C4C4',width:1.2,dash:'dot'}});
 drawOrder.forEach(c=>{
  traces.push({type:'scatter',mode:'lines',x:p.d[c].map(q=>q[0]),y:p.d[c].map(q=>q[1]),xaxis:xa,yaxis:ya,showlegend:false,
   name:p.n[legendOrder.indexOf(c)],line:{color:colors[c],width:1.6}});
 });
 text(p.k==='roc'?'1 – Specificity':'Recall',p.xt[0],p.xt[1],21,'#111',sansR);
 text(p.k==='roc'?'Sensitivity':'Precision',p.yt[0],p.yt[1],p.k==='roc'?23:22,'#111',sansR,-90);
});

legendRows.forEach(r=>r.p.forEach((q,i)=>{
 shapes.push({type:'line',xref:'paper',yref:'paper',x0:px(q[0]*K),x1:px(q[1]*K),y0:py(q[3]*K),y1:py(q[3]*K),line:{color:colors[legendOrder[i]],width:1.6}});
 text(r.n[i],q[2]*K-2.5,q[4]*K,32,'#111',sansR,0,'left');
}));
banners.forEach(b=>{rect(b.a,b.b,19,93,'#666666');text(b.t,b.c,53,46.5,'#FFFFFF',sansO);});
heads.forEach(h=>text(h[0],h[1],150,29.5,'#111',sansO));
rowBoxes.forEach(b=>{rect(106.7,168.3,b.a,b.b,'#8C8C8C');text(b.t,b.x,b.c,b.s,'#FFFFFF',sansO,-90);});
text('METHODS',27,741,45,'#111',sansR,-90);
text('(Reference standard; % of DEGs)',62,756,29,'#111',sansO,-90);

// small round logo in the top-right corner
const pp=(x,y)=>px(x)+' '+py(y);
shapes.push({type:'circle',xref:'paper',yref:'paper',x0:px(1869),x1:px(1940),y0:py(72),y1:py(2),fillcolor:'#3F4BFA',line:{width:0}});
shapes.push({type:'circle',xref:'paper',yref:'paper',x0:px(1873),x1:px(1934),y0:py(52),y1:py(30),fillcolor:'#E6EEEE',line:{color:'#8E9A9A',width:1}});
shapes.push({type:'path',xref:'paper',yref:'paper',path:'M'+pp(1904.5,17)+' L'+pp(1912,25)+' L'+pp(1927,41)+' Q'+pp(1904,48)+' '+pp(1881,41)+' L'+pp(1896,25)+' Z',fillcolor:'#C9A25E',line:{width:0}});

Object.assign(layout,{width:W,height:H,margin:{l:0,r:0,t:0,b:0},paper_bgcolor:'#fff',plot_bgcolor:'#fff',showlegend:false,shapes:shapes,annotations:annotations});
Plotly.newPlot('c',traces,layout,{displayModeBar:false,staticPlot:true});
</script></body></html>
